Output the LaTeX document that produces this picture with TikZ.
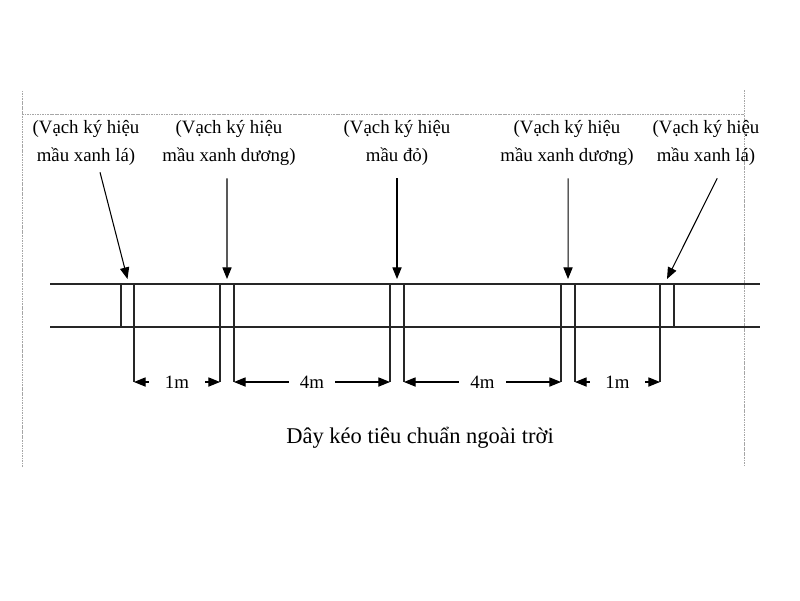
\documentclass[tikz,border=0pt]{standalone}
\usepackage{fontspec}
\setmainfont{Liberation Serif}
\usetikzlibrary{arrows.meta}

\begin{document}
\begin{tikzpicture}[
  x=0.025cm, y=-0.025cm,
  >={Triangle[length=2.9mm, width=2.3mm]},
  lbl/.style={align=center, inner sep=0pt,
              font=\fontsize{13.4}{20.5}\selectfont},
  dlbl/.style={fill=white, inner xsep=8pt, inner ysep=2pt,
               font=\fontsize{13.4}{15}\selectfont},
  frm/.style={draw=gray!70, line width=0.5pt, dash pattern=on 1.2pt off 0.6pt},
  tape/.style={draw=black!85, line width=0.75pt},
  pt/.style={->, draw=black, line width=0.75pt},
  dm/.style={<->, draw=black, line width=0.75pt}]
\useasboundingbox (0,0) rectangle (800,600);

% ================= page frame =================
\draw[frm] (22,467) -- (22,90);
\draw[frm] (22,114) -- (744,114);
\draw[frm] (744,90) -- (744,467);

% ================= tape =================
\draw[tape] (50,284) -- (760,284);
\draw[tape] (50,327) -- (760,327);

% marks (pairs of lines)
\foreach \i/\xa/\xb in {1/121/134, 2/220/234, 3/390/404, 4/561/575, 5/660/674} {
  \coordinate (m\i a) at (\xa,284);
  \coordinate (m\i b) at (\xb,284);
  \coordinate (t\i) at ({(\xa+\xb)/2},279);
}
\draw[tape] (m1a) -- ++(0,43);
\draw[tape] (m5b) -- ++(0,43);
\foreach \m in {m1b, m2a, m2b, m3a, m3b, m4a, m4b, m5a}
  \draw[tape] (\m) -- ++(0,98);

% ================= labels =================
\node[lbl] (l1) at (86,143) {(Vạch ký hiệu\\mầu xanh lá)};
\node[lbl] (l2) at (229,143) {(Vạch ký hiệu\\mầu xanh dương)};
\node[lbl] (l3) at (397,143) {(Vạch ký hiệu\\mầu đỏ)};
\node[lbl] (l4) at (567,143) {(Vạch ký hiệu\\mầu xanh dương)};
\node[lbl] (l5) at (706,143) {(Vạch ký hiệu\\mầu xanh lá)};

\draw[pt] ([xshift=3.5mm, yshift=-1.5mm]l1.south) -- (t1);
\draw[pt] ([xshift=-0.5mm, yshift=-3mm]l2.south) -- (t2);
\draw[pt] ([yshift=-3mm]l3.south) -- (t3);
\draw[pt] ([xshift=0.3mm, yshift=-3mm]l4.south) -- (t4);
\draw[pt] ([xshift=2.8mm, yshift=-3mm]l5.south) -- (t5);

% ================= distances =================
\draw[dm] ([yshift=-98*0.025cm]m1b) -- node[dlbl, inner xsep=11pt] {1m} ([yshift=-98*0.025cm]m2a);
\draw[dm] ([yshift=-98*0.025cm]m2b) -- node[dlbl] {4m} ([yshift=-98*0.025cm]m3a);
\draw[dm] ([yshift=-98*0.025cm]m3b) -- node[dlbl] {4m} ([yshift=-98*0.025cm]m4a);
\draw[dm] ([yshift=-98*0.025cm]m4b) -- node[dlbl, inner xsep=11pt] {1m} ([yshift=-98*0.025cm]m5a);

% caption
\node[font=\fontsize{16}{18}\selectfont] (cap) at (420,438) {Dây kéo tiêu chuẩn ngoài trời};
\end{tikzpicture}
\end{document}
